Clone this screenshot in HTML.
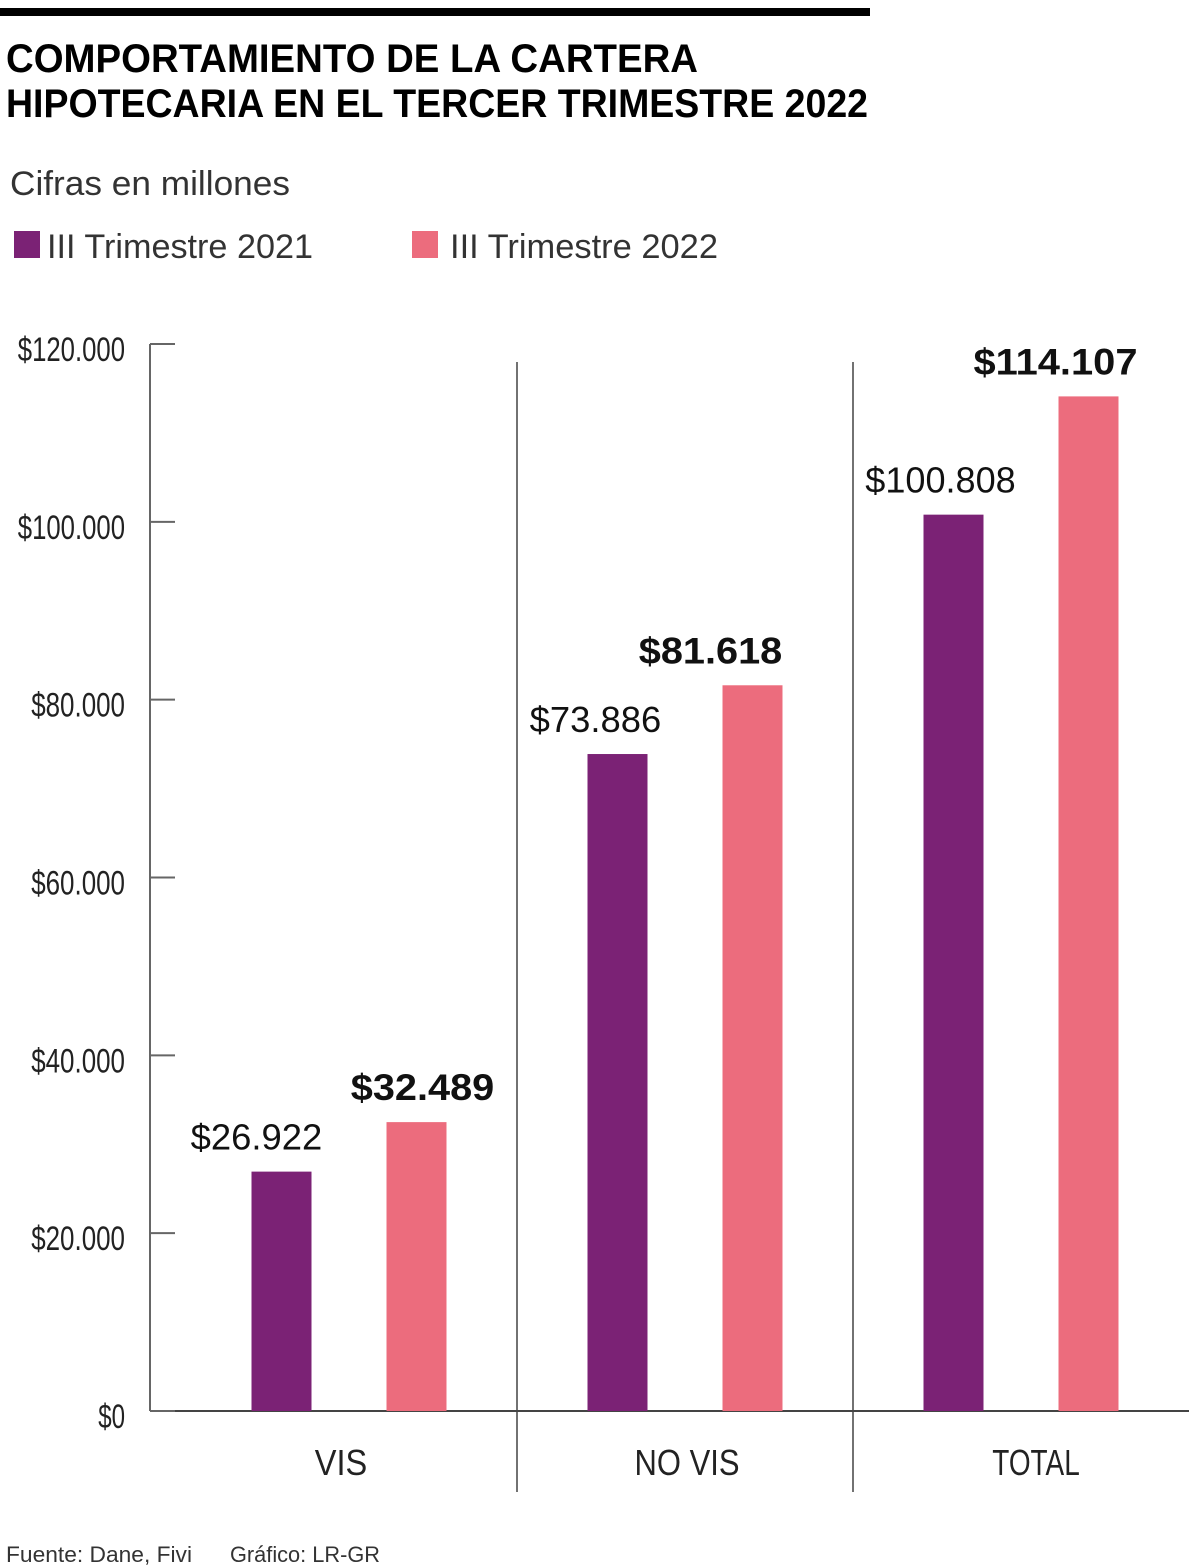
<!DOCTYPE html>
<html><head><meta charset="utf-8"><style>
html,body{margin:0;padding:0;background:#fff;}
svg{display:block;font-family:"Liberation Sans",sans-serif;}
</style></head><body>
<svg id="chart" width="1200" height="1566" viewBox="0 0 1200 1566" xmlns="http://www.w3.org/2000/svg">
<rect x="0" y="8" width="870" height="8" fill="#000"/>
<text x="6" y="72" font-size="40" font-weight="bold" textLength="692" lengthAdjust="spacingAndGlyphs">COMPORTAMIENTO DE LA CARTERA</text>
<text x="6" y="117" font-size="40" font-weight="bold" textLength="862" lengthAdjust="spacingAndGlyphs">HIPOTECARIA EN EL TERCER TRIMESTRE 2022</text>
<text x="10" y="195" font-size="34" fill="#333" textLength="280" lengthAdjust="spacingAndGlyphs">Cifras en millones</text>
<g>
<rect x="14" y="231" width="26" height="27" fill="#7b2275"/>
<text x="47" y="258" font-size="34" fill="#333" textLength="266" lengthAdjust="spacingAndGlyphs">III Trimestre 2021</text></g>
<g>
<rect x="412" y="231" width="26" height="27" fill="#ec6c7d"/>
<text x="450" y="258" font-size="34" fill="#333" textLength="268" lengthAdjust="spacingAndGlyphs">III Trimestre 2022</text></g>
<g id="axes"></g>
<g id="marks"></g>
<text x="6" y="1562" font-size="22" fill="#333" textLength="186" lengthAdjust="spacingAndGlyphs">Fuente: Dane, Fivi</text>
<text x="230" y="1562" font-size="22" fill="#333" textLength="150" lengthAdjust="spacingAndGlyphs">Gráfico: LR-GR</text>
</svg>
<script>
const categories = ["VIS", "NO VIS", "TOTAL"];
const values2021 = [26922, 73886, 100808];
const values2022 = [32489, 81618, 114107];
const tickValues = [0, 20000, 40000, 60000, 80000, 100000, 120000];
const tickLabels = ["$0", "$20.000", "$40.000", "$60.000", "$80.000", "$100.000", "$120.000"];

// layout-only nudges (not data)
const lblDx2021 = [-25, -22, -13];
const lblDx2022 = [6, -42, -33];
const catDx = [-8, 2, 15];

const NS = "http://www.w3.org/2000/svg";
const y0 = 1411, yTop = 344, yMax = 120000;
const yScale = v => y0 - v / yMax * (y0 - yTop);
const catStart = 181, catW = 336;
const xCenter = i => catStart + catW * i + catW / 2;
const fmt = v => "$" + v.toLocaleString("de-DE");
function mk(tag, attrs, parent, text) {
  const e = document.createElementNS(NS, tag);
  for (const k in attrs) e.setAttribute(k, attrs[k]);
  if (text !== undefined) e.textContent = text;
  parent.appendChild(e);
  return e;
}
const axes = document.getElementById("axes");
const marks = document.getElementById("marks");
const ax = mk("line", {x1:150, y1:yTop, x2:150, y2:y0, stroke:"#666", "stroke-width":2}, axes);


const base = mk("line", {x1:150, y1:y0, x2:1189, y2:y0, stroke:"#444", "stroke-width":2}, axes);


tickValues.forEach((v, i) => {
  const y = yScale(v);
  const t = mk("line", {x1:150, y1:y, x2:175, y2:y, stroke:"#666", "stroke-width":2}, axes);
  
  
  const lbl = tickLabels[i];
  const l = mk("text", {x:125, y:y+17, "font-size":34, fill:"#222", "text-anchor":"end", textLength: lbl.length*13.4, lengthAdjust:"spacingAndGlyphs"}, axes, lbl);
  
  
});
[1, 2].forEach(i => {
  const x = catStart + catW * i;
  const d = mk("line", {x1:x, y1:362, x2:x, y2:1492, stroke:"#444", "stroke-width":1.5}, axes);
  
  
});
categories.forEach((c, i) => {
  const cx = xCenter(i);
  const l = mk("text", {x:cx + catDx[i], y:1475, "font-size":36, fill:"#222", "text-anchor":"middle", textLength: c.length*17.5, lengthAdjust:"spacingAndGlyphs"}, axes, c);
  
  
  const x1 = cx - 67.5 - 30, x2 = cx + 67.5 - 30;
  const b1 = mk("rect", {x:x1, y:yScale(values2021[i]), width:60, height:y0 - yScale(values2021[i]), fill:"#7b2275"}, marks);
  
  
  const b2 = mk("rect", {x:x2, y:yScale(values2022[i]), width:60, height:y0 - yScale(values2022[i]), fill:"#ec6c7d"}, marks);
  
  
  const s1 = fmt(values2021[i]);
  const v1 = mk("text", {x:x1 + 30 + lblDx2021[i], y:yScale(values2021[i]) - 22, "font-size":36, fill:"#111", "text-anchor":"middle", textLength: s1.length*18.8, lengthAdjust:"spacingAndGlyphs"}, marks, s1);
  
  
  const s2 = fmt(values2022[i]);
  const v2 = mk("text", {x:x2 + 30 + lblDx2022[i], y:yScale(values2022[i]) - 22, "font-size":37, "font-weight":"bold", fill:"#111", "text-anchor":"middle", textLength: s2.length*20.5, lengthAdjust:"spacingAndGlyphs"}, marks, s2);
  
  
});
</script>
</body></html>
